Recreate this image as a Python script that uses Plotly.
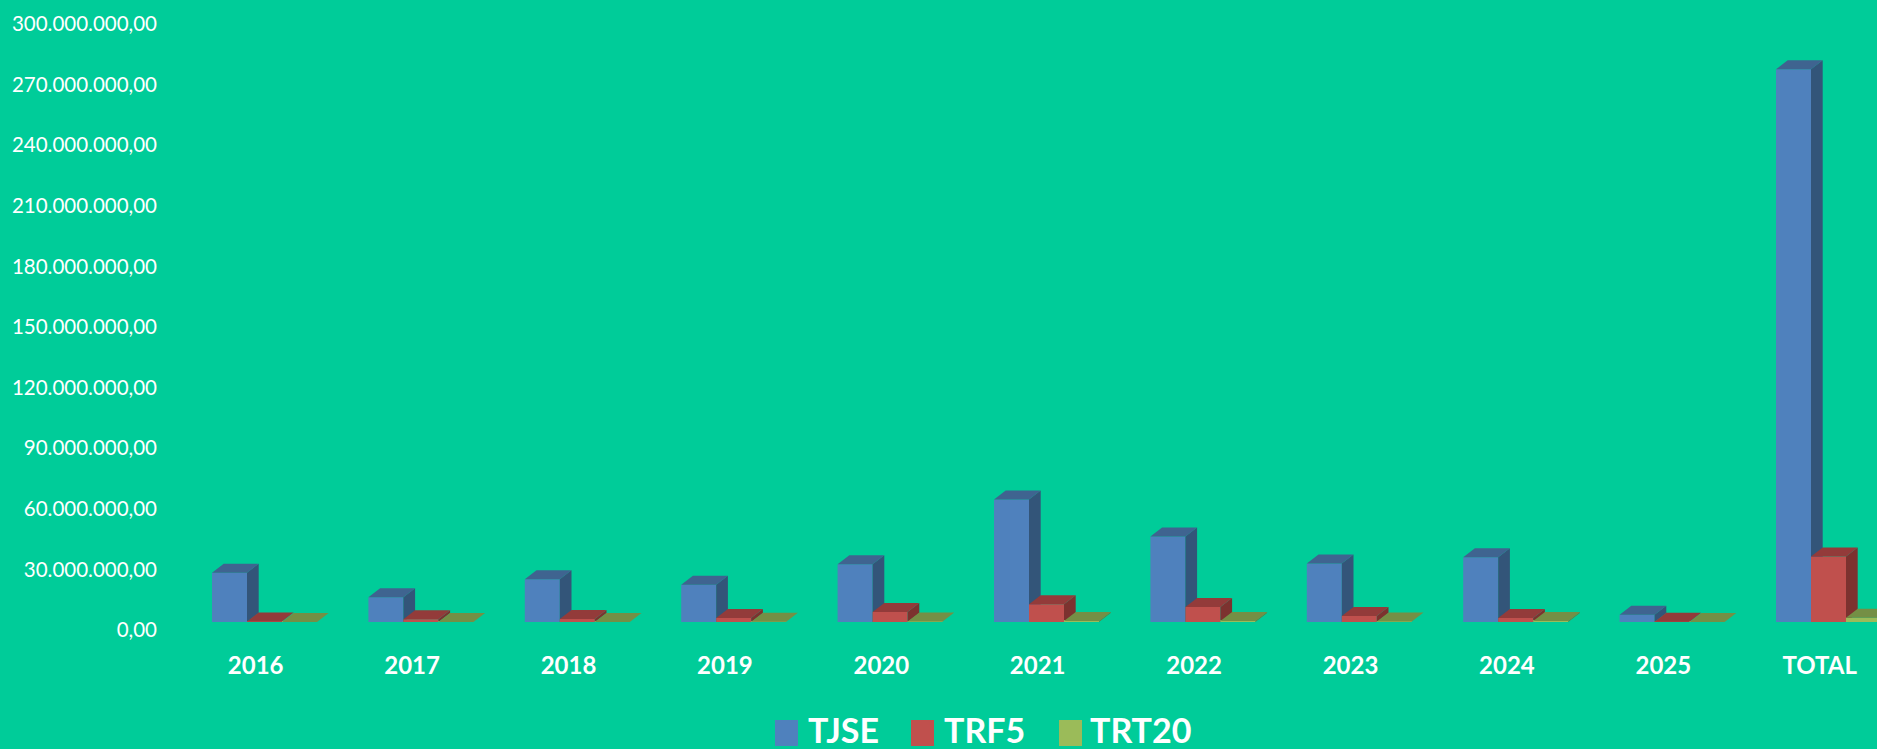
import plotly.graph_objects as go

categories = ["2016", "2017", "2018", "2019", "2020", "2021", "2022", "2023", "2024", "2025", "TOTAL"]
tjse = [24.4e6, 12.2e6, 21.2e6, 18.5e6, 28.6e6, 60.7e6, 42.3e6, 29.0e6, 32.0e6, 3.6e6, 273.6e6]
trf5 = [0.3e6, 1.3e6, 1.5e6, 2.0e6, 5.0e6, 8.8e6, 7.4e6, 3.0e6, 2.0e6, 0.1e6, 32.4e6]
trt20 = [0.05e6, 0.05e6, 0.05e6, 0.1e6, 0.2e6, 0.5e6, 0.5e6, 0.3e6, 0.5e6, 0.05e6, 2.1e6]
y_tick_values = [0, 30e6, 60e6, 90e6, 120e6, 150e6, 180e6, 210e6, 240e6, 270e6, 300e6]
y_tick_labels = ["0,00", "30.000.000,00", "60.000.000,00", "90.000.000,00", "120.000.000,00",
                 "150.000.000,00", "180.000.000,00", "210.000.000,00", "240.000.000,00",
                 "270.000.000,00", "300.000.000,00"]

BG = "#00CC99"
W, H = 1877, 749
LEFT, BOTTOM_PX = 158, 649
PX_PER_CAT = 156.4
FIRST_CAT_PX = 255.7
BASE_PX = 622
PX_PER_UNIT = 60.6 / 30e6
BAR_PX = 35
DEPTH_X_PX, DEPTH_Y_PX = 11.7, 9
GROUP_SHIFT_PX = 8.8
LABEL_DROP_PX = 8

x_range = [(LEFT - FIRST_CAT_PX) / PX_PER_CAT, (W - FIRST_CAT_PX) / PX_PER_CAT]
y_range = [(BASE_PX - BOTTOM_PX) / PX_PER_UNIT, BASE_PX / PX_PER_UNIT]
bar_w = BAR_PX / PX_PER_CAT
dx = DEPTH_X_PX / PX_PER_CAT
dv = DEPTH_Y_PX / PX_PER_UNIT

series = [
    ("TJSE", tjse, "#4F81BD", "#3F6490", "#335579"),
    ("TRF5", trf5, "#C0504D", "#933B3A", "#7C322F"),
    ("TRT20", trt20, "#9BBB59", "#748F45", "#647C3B"),
]

fig = go.Figure()
for k, (name, vals, front, top, side) in enumerate(series):
    suffix = "" if k == 0 else str(k + 1)
    xa, ya = "x" + suffix, "y" + suffix
    centers = [i + GROUP_SHIFT_PX / PX_PER_CAT + (k - 1) * bar_w for i in range(len(vals))]
    fig.add_trace(go.Bar(x=centers, y=vals, width=bar_w, name=name, xaxis=xa, yaxis=ya,
                         marker=dict(color=front, line=dict(width=0)), showlegend=False,
                         hovertext=categories, hoverinfo="text+y"))
    tx, ty, sx, sy = [], [], [], []
    for c, v in zip(centers, vals):
        l, r = c - bar_w / 2, c + bar_w / 2
        tx += [l, r, r + dx, l + dx, l, None]
        ty += [v, v, v + dv, v + dv, v, None]
        sx += [r, r + dx, r + dx, r, r, None]
        sy += [0, dv, v + dv, v, 0, None]
    for px, py, color in ((sx, sy, side), (tx, ty, top)):
        fig.add_trace(go.Scatter(x=px, y=py, mode="lines", fill="toself", fillcolor=color,
                                 line=dict(width=0, color=color), xaxis=xa, yaxis=ya,
                                 hoverinfo="skip", showlegend=False))

shift_v = LABEL_DROP_PX / PX_PER_UNIT
layout = dict(
    width=W, height=H, paper_bgcolor=BG, plot_bgcolor=BG,
    margin=dict(l=LEFT, r=0, t=0, b=H - BOTTOM_PX, pad=0),
    barmode="overlay", showlegend=False,
    font=dict(family="Lato, Carlito, sans-serif", color="white"),
    xaxis=dict(range=x_range, tickmode="array", tickvals=list(range(len(categories))),
               ticktext=categories, showgrid=False, zeroline=False, showline=False, ticks="",
               tickfont=dict(family="Lato", size=24, color="white", weight="bold")),
    yaxis=dict(range=y_range, tickmode="array", tickvals=[v - shift_v for v in y_tick_values],
               ticktext=y_tick_labels, showgrid=False, zeroline=False, showline=False,
               ticks="",
               tickfont=dict(family="Lato", size=20.5, color="white")),
)
for n in (2, 3):
    layout[f"xaxis{n}"] = dict(range=x_range, overlaying="x", visible=False)
    layout[f"yaxis{n}"] = dict(range=y_range, overlaying="y", visible=False)

# Legend key: swatches and labels laid out along the bottom of the page
legend_items = [("TJSE", "#4F81BD", 775, 807), ("TRF5", "#C0504D", 911, 943), ("TRT20", "#9BBB59", 1059, 1089)]
shapes, annotations = [], []
for label, color, sw_x, txt_x in legend_items:
    shapes.append(dict(type="rect", xref="paper", yref="paper", layer="above",
                       x0=(sw_x - LEFT) / (W - LEFT), x1=(sw_x + 23 - LEFT) / (W - LEFT),
                       y0=(BOTTOM_PX - 746) / BOTTOM_PX, y1=(BOTTOM_PX - 720) / BOTTOM_PX,
                       fillcolor=color, line=dict(width=0)))
    annotations.append(dict(text=f"<b>{label}</b>", xref="paper", yref="paper", showarrow=False,
                            x=(txt_x - LEFT) / (W - LEFT), y=(BOTTOM_PX - 729) / BOTTOM_PX,
                            xanchor="left", yanchor="middle", align="left", borderpad=0,
                            font=dict(family="Lato", size=34, color="white")))
layout["shapes"] = shapes
layout["annotations"] = annotations
fig.update_layout(**layout)

fig.write_html("out.html", config={"displayModeBar": False},
               post_script="document.body.style.margin='0';document.body.style.overflow='hidden';")
